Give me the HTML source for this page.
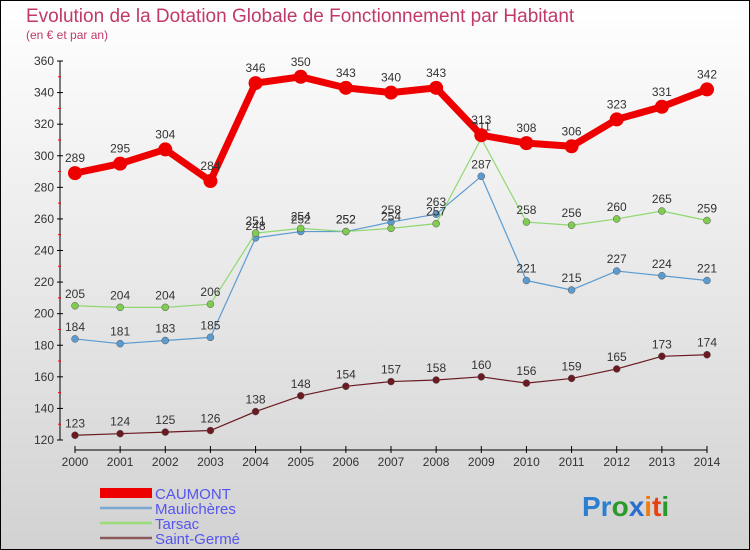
<!DOCTYPE html>
<html><head><meta charset="utf-8"><style>
body{margin:0}
svg{display:block;font-family:"Liberation Sans",sans-serif}
</style></head><body>
<svg id="c" width="750" height="550">
<defs><linearGradient id="bg" x1="0" y1="0" x2="0" y2="1"><stop offset="0" stop-color="#ffffff"/><stop offset="1" stop-color="#d2d2d2"/></linearGradient></defs>
<rect x="0.5" y="0.5" width="749" height="549" fill="url(#bg)" stroke="#000"/>
<text x="26" y="22" font-size="19" fill="#c0396a">Evolution de la Dotation Globale de Fonctionnement par Habitant</text>
<text x="26" y="39" font-size="12" fill="#c0396a">(en € et par an)</text>
<g id="axes"></g><g id="series"></g><g id="legend"></g>
<g font-size="28" font-weight="bold">
<text x="582" y="516"><tspan fill="#2a7fd0">Pr</tspan><tspan fill="#2a9a2a">o</tspan><tspan fill="#2a6fd0">x</tspan><tspan fill="#f07b10">i</tspan><tspan fill="#e84010">t</tspan><tspan fill="#2a9a2a">i</tspan></text>
</g>
</svg>
<script>
const years=[2000,2001,2002,2003,2004,2005,2006,2007,2008,2009,2010,2011,2012,2013,2014];
const caumont=[289,295,304,284,346,350,343,340,343,313,308,306,323,331,342];
const maulicheres=[184,181,183,185,248,252,252,258,263,287,221,215,227,224,221];
const tarsac=[205,204,204,206,251,254,252,254,257,311,258,256,260,265,259];
const saintGerme=[123,124,125,126,138,148,154,157,158,160,156,159,165,173,174];
const yTicks=[120,140,160,180,200,220,240,260,280,300,320,340,360];
const NS='http://www.w3.org/2000/svg';
const X=i=>75+i*(707-75)/14;
const Y=v=>440-(v-120)*(440-61)/240;
function mk(tag,attrs,parent,text){const e=document.createElementNS(NS,tag);for(const k in attrs)e.setAttribute(k,attrs[k]);if(text!==undefined)e.textContent=text;parent.appendChild(e);return e;}
const ax=document.getElementById('axes');
let yl=mk('line',{x1:60,y1:61,x2:60,y2:440,stroke:'#000'},ax);


yTicks.forEach(t=>{
 mk('line',{x1:57,y1:Y(t),x2:63,y2:Y(t),stroke:'#000'},ax);
 if(t<360) mk('line',{x1:58,y1:Y(t+10),x2:61,y2:Y(t+10),stroke:'#f00'},ax);
 const tx=mk('text',{x:54,y:Y(t)+4,'font-size':12,fill:'#333','text-anchor':'end'},ax,t);
 
 
});
let xl=mk('line',{x1:75,y1:450,x2:707,y2:450,stroke:'#000'},ax);


years.forEach((yr,i)=>{
 mk('line',{x1:X(i),y1:446,x2:X(i),y2:453,stroke:'#000'},ax);
 const tx=mk('text',{x:X(i),y:466,'font-size':12,fill:'#333','text-anchor':'middle'},ax,yr);
 
 
});
const sg=document.getElementById('series');
const defs=[
 {name:'saint-germe',data:saintGerme,c:'#6b1a22',w:1.2,r:3.5,fill:'#6b1a22'},
 {name:'maulicheres',data:maulicheres,c:'#5b9bd0',w:1.2,r:3.5,fill:'#5b9bd0'},
 {name:'tarsac',data:tarsac,c:'#8fd870',w:1.2,r:3.5,fill:'#7fcc50'},
 {name:'caumont',data:caumont,c:'#ee0000',w:7,r:7,fill:'#ee0000'}
];
defs.forEach(s=>{
 const g=mk('g',{},sg);
 
 
 const pl=mk('polyline',{points:s.data.map((v,i)=>X(i)+','+Y(v)).join(' '),fill:'none',stroke:s.c,'stroke-width':s.w,'stroke-linejoin':'round'},g);
 
 
 s.data.forEach((v,i)=>{
  const p=mk('circle',{cx:X(i),cy:Y(v),r:s.r,fill:s.fill,stroke:s.name==='caumont'?'none':'#555','stroke-width':0.5},g);
  
  
  const t=mk('text',{x:X(i),y:Y(v)-(s.name==='caumont'?11:8),'font-size':12,fill:'#333','text-anchor':'middle'},g,v);
  
  
 });
});
const lg=document.getElementById('legend');
const leg=[['CAUMONT','#ee0000',10],['Maulichères','#7aa8d0',2.5],['Tarsac','#99dd77',2.5],['Saint-Germé','#8a5a5a',2.5]];
leg.forEach((l,i)=>{
 const y=493+i*15;
 const g=mk('g',{},lg);
 
 
 mk('line',{x1:100,y1:y,x2:152,y2:y,stroke:l[1],'stroke-width':l[2]},g);
 mk('text',{x:155,y:y+6,'font-size':15,fill:'#5555ee'},g,l[0]);
});
</script>
</body></html>
